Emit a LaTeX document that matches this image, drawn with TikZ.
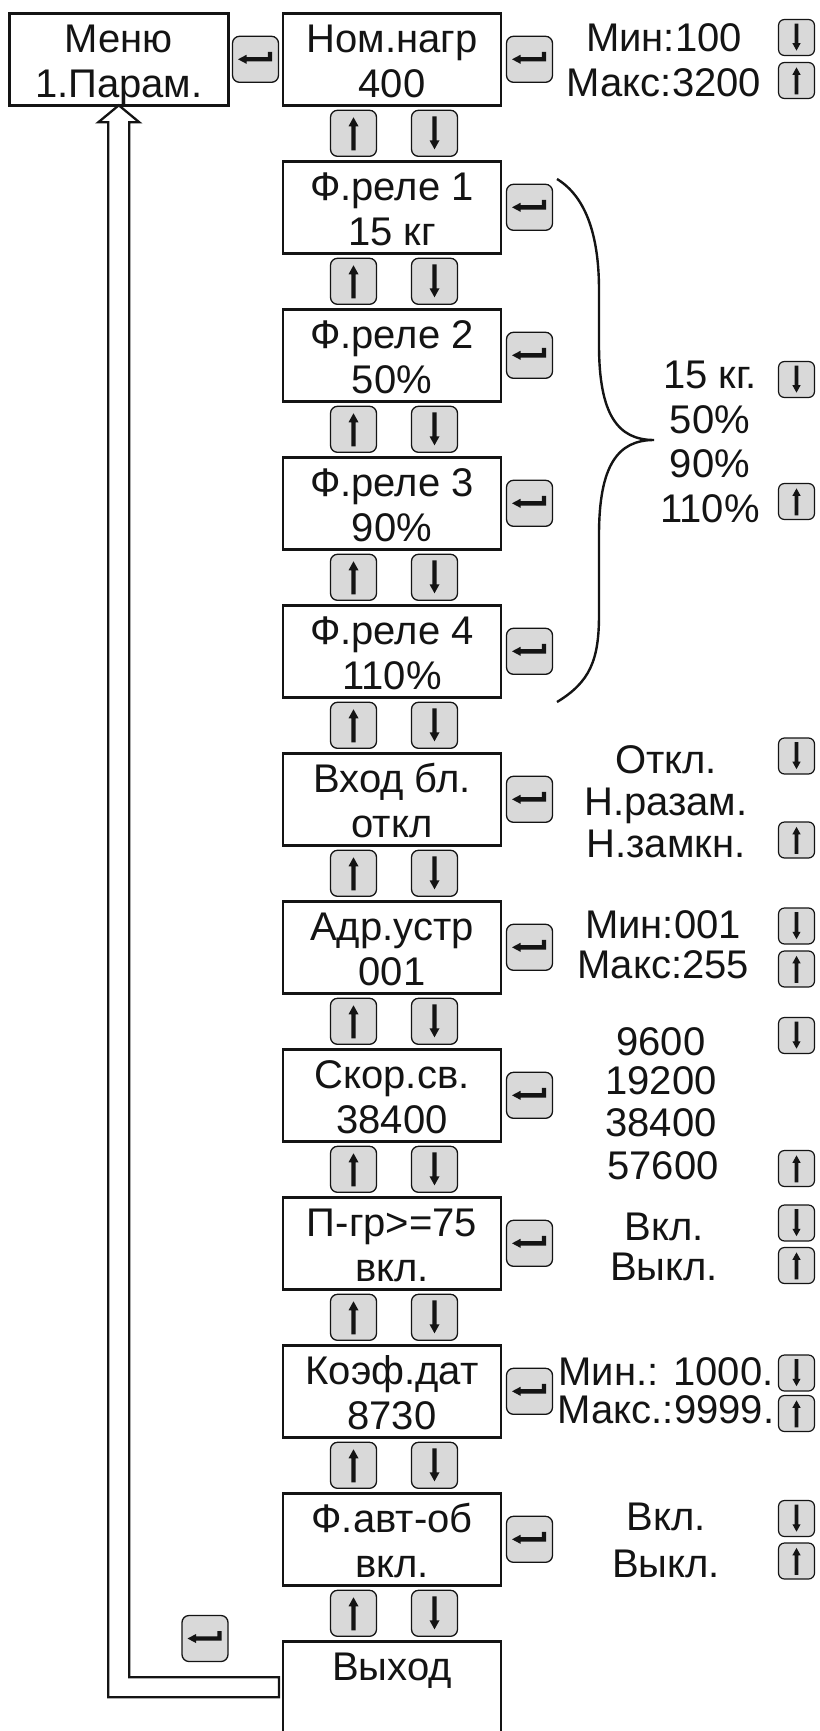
\documentclass[tikz,border=0pt]{standalone}
\usepackage{fontspec}
\setmainfont{Liberation Sans}
\usetikzlibrary{calc}
\definecolor{btngray}{RGB}{217,217,217}
\definecolor{ink}{RGB}{20,20,20}
\begin{document}
\begin{tikzpicture}[x=1pt,y=-1pt,
  box/.style={draw=ink, line width=2.8pt, minimum width=218pt, minimum height=92pt, inner sep=0pt, outer sep=0pt},
  btn/.style={draw=ink, line width=1.3pt, fill=btngray, rounded corners=7pt, minimum width=46pt, minimum height=46pt, inner sep=0pt},
  sbtn/.style={draw=ink, line width=1.2pt, fill=btngray, rounded corners=6pt, minimum width=36pt, minimum height=36pt, inner sep=0pt},
  lbl/.style={font=\fontsize{40}{45}\selectfont, text=ink, inner sep=0pt, anchor=base},
  dbl/.style={draw=ink, line width=2.3pt, fill=white, line join=miter},
  brace/.style={draw=ink, line width=2.4pt},
  enterglyph/.pic={\fill[ink] (-17.5,0) -- (-9,-4.5) -- (-9,-2.2) -- (12.3,-2.2) -- (12.3,-7.5) -- (16.5,-7.5) -- (16.5,2.2) -- (-9,2.2) -- (-9,4.5) -- cycle;},
  upglyph/.pic={\fill[ink] (0,-16) -- (5,-7) -- (2.2,-7) -- (2.2,17) -- (-2.2,17) -- (-2.2,-7) -- (-5,-7) -- cycle;},
  downglyph/.pic={\fill[ink] (0,16) -- (5,7) -- (2.2,7) -- (2.2,-17) -- (-2.2,-17) -- (-2.2,7) -- (-5,7) -- cycle;},
]
\useasboundingbox (0,0) rectangle (819,1731);
\fill[white] (0,0) rectangle (819,1731);

% ---- boxes ----
\foreach \i in {0,...,11}{
  \pgfmathsetmacro\cy{59.3+148*\i}
  \node[box] (b\i) at (392,\cy) {};
}
\path (118.8,59.3) coordinate (menuc);
\coordinate (menusouth) at ($(menuc)+(0,46)$);

% ---- return double arrow (Выход -> Меню) ----
\coordinate (exend) at ([xshift=-4pt]b11.west);
\draw[dbl] ($(exend)+(0,-10)$) -- ($(menusouth|-exend)+(10.5,-10)$)
  -- ($(menusouth)+(10.5,17)$) -- ($(menusouth)+(20.5,17)$)
  -- (menusouth)
  -- ($(menusouth)+(-20.5,17)$) -- ($(menusouth)+(-10.5,17)$)
  -- ($(menusouth|-exend)+(-10.5,10)$) -- ($(exend)+(0,10)$) -- cycle;
\node[box, minimum width=219pt] (menu) at (menuc) {};

% ---- box texts ----
\node[lbl] (tm1) at (118.8,52.3) {Меню};
\node[lbl] (tm2) at (118.8,97.3) {1.Парам.};
\foreach \i/\la/\lb in {0/{Ном.нагр}/{400}, 1/{Ф.реле 1}/{15 кг}, 2/{Ф.реле 2}/{50\%},
    3/{Ф.реле 3}/{90\%}, 4/{Ф.реле 4}/{110\%}, 5/{Вход бл.}/{откл}, 6/{Адр.устр}/{001},
    7/{Скор.св.}/{38400}, 8/{П-гр>=75}/{вкл.}, 9/{Коэф.дат}/{8730}, 10/{Ф.авт-об}/{вкл.}}{
  \pgfmathsetmacro\ya{52.3+148*\i}
  \pgfmathsetmacro\yb{97.3+148*\i}
  \node[lbl] (ta\i) at (392,\ya) {\la};
  \node[lbl] (tb\i) at (392,\yb) {\lb};
}
\node[lbl] (ta11) at (392,1680.3) {Выход};

% ---- enter buttons ----
\node[btn] (emenu) at (255.5,59.3) {};
\pic at (emenu) {enterglyph};
\foreach \i in {0,...,10}{
  \pgfmathsetmacro\cy{59.3+148*\i}
  \node[btn] (e\i) at (529.5,\cy) {};
  \pic at (e\i) {enterglyph};
}
\node[btn] (eexit) at (205,1638.5) {};
\pic at (eexit) {enterglyph};

% ---- up / down buttons between boxes ----
\foreach \i in {0,...,10}{
  \pgfmathsetmacro\cy{133.3+148*\i}
  \node[btn] (u\i) at (353.5,\cy) {};
  \pic at (u\i) {upglyph};
  \node[btn] (d\i) at (434.5,\cy) {};
  \pic at (d\i) {downglyph};
}

% ---- right-hand value lists ----
\node[lbl] (r0a) at (664,52) {Мин:100};
\node[lbl] (r0b) at (664,97) {Макс:3200};

\node[lbl] (r1a) at (710,388) {15 кг.};
\node[lbl] (r1b) at (710,433) {50\%};
\node[lbl] (r1c) at (710,477) {90\%};
\node[lbl] (r1d) at (710,522) {110\%};

\node[lbl] (r5a) at (666,773) {Откл.};
\node[lbl] (r5b) at (666,815) {Н.разам.};
\node[lbl] (r5c) at (666,857) {Н.замкн.};

\node[lbl] (r6a) at (663,938) {Мин:001};
\node[lbl] (r6b) at (663,978) {Макс:255};

\node[lbl] (r7a) at (661,1055) {9600};
\node[lbl] (r7b) at (661,1094) {19200};
\node[lbl] (r7c) at (661,1136) {38400};
\node[lbl] (r7d) at (663,1179) {57600};

\node[lbl] (r8a) at (664,1240) {Вкл.};
\node[lbl] (r8b) at (664,1280) {Выкл.};

\node[lbl] (r9a) at (666,1385) {Мин.: 1000.};
\node[lbl] (r9b) at (666,1423) {Макс.:9999.};

\node[lbl] (r10a) at (666,1530) {Вкл.};
\node[lbl] (r10b) at (666,1577) {Выкл.};

% ---- small buttons on the right ----
\foreach \n/\y/\g in {s0d/37.5/downglyph, s0u/80.5/upglyph,
    s1d/379.5/downglyph, s1u/501.5/upglyph,
    s5d/756/downglyph, s5u/840/upglyph,
    s6d/926/downglyph, s6u/969/upglyph,
    s7d/1035.5/downglyph, s7u/1168.5/upglyph,
    s8d/1223/downglyph, s8u/1265.5/upglyph,
    s9d/1373/downglyph, s9u/1413.5/upglyph,
    s10d/1518.5/downglyph, s10u/1561/upglyph}{
  \node[sbtn] (\n) at (796.5,\y) {};
  \pic[scale=0.82] at (\n) {\g};
}

% ---- brace ----
\coordinate (brtop) at (557,179);
\coordinate (brtip) at (654,440);
\coordinate (brbot) at (557,702);
\draw[brace] (brtop) .. controls (588,198) and (599,240) .. (599,290)
  -- (599,345) .. controls (599,415) and (618,440) .. (brtip)
  .. controls (618,440) and (599,465) .. (599,535)
  -- (599,615) .. controls (599,660) and (590,682) .. (brbot);
\end{tikzpicture}
\end{document}
